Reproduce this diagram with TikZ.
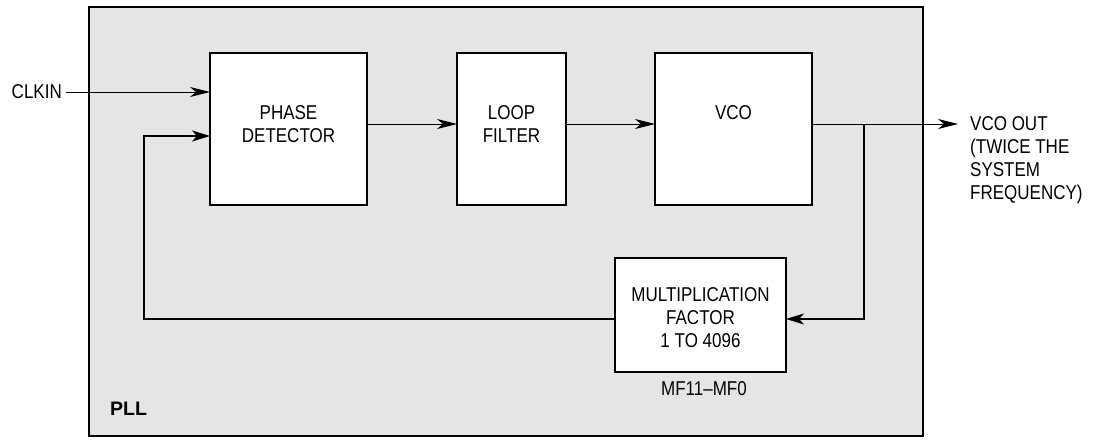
\documentclass[tikz,border=0pt]{standalone}
\usepackage{fontspec}
\setmainfont{Liberation Sans}
\newfontfamily\narrowsans[FakeStretch=0.85]{Liberation Sans}
\usetikzlibrary{arrows.meta}
\begin{document}
\begin{tikzpicture}[x=1pt,y=-1pt,
  txt/.style={font=\narrowsans\fontsize{20}{23}\selectfont, align=center, inner sep=0pt},
  blk/.style={draw, line width=2pt, fill=white},
  thin/.style={line width=1pt},
  thick/.style={line width=2pt},
  arr/.style={-{Stealth[length=20pt,width=10pt,inset=6pt]}},
  arrt/.style={-{Stealth[length=18pt,width=11pt,inset=5pt]}}
]
\useasboundingbox (0,0) rectangle (1094,444);
\draw[line width=2pt, fill={rgb,255:red,229;green,229;blue,229}] (89,7) rectangle (923,436);
% blocks
\draw[blk] (210,53) rectangle (367,205);
\draw[blk] (457,53) rectangle (566,205);
\draw[blk] (655,53) rectangle (812,205);
\draw[blk] (615,258) rectangle (786,372);
\coordinate (pdW1) at (210,92);
\coordinate (pdW2) at (210,136);
\coordinate (pdE) at (367,124);
\coordinate (lfW) at (457,124);
\coordinate (lfE) at (566,124);
\coordinate (vcoW) at (655,124);
\coordinate (vcoE) at (812,124);
\coordinate (mfE) at (786,319);
\coordinate (mfW) at (615,319);
\coordinate (j) at (864,124);
\coordinate (outend) at (958,124);
\coordinate (fbL) at (144,319);
\coordinate (fbT) at (144,136);
% texts
\node[txt, anchor=east] (clkin) at (62,92) {CLKIN};
\node[txt] (pd) at (288.5,124) {PHASE\\DETECTOR};
\node[txt] (lf) at (511.5,124) {LOOP\\FILTER};
\node[txt] (vco) at (733.5,113) {VCO};
\node[txt] (mf) at (700.5,318) {MULTIPLICATION\\FACTOR\\1 TO 4096};
\node[txt] (mfl) at (704,389) {MF11–MF0};
\node[txt, align=left, anchor=north west] (out) at (970,116) {VCO OUT\\(TWICE THE\\SYSTEM\\FREQUENCY)};
\node[inner sep=0pt, font=\fontsize{19.5}{22}\selectfont\bfseries, anchor=west] (pll) at (110,408.5) {PLL};
% connectors
\draw[thin, arr] (clkin.east) ++(4,0) -- (pdW1);
\draw[thin, arr] (pdE) -- (lfW);
\draw[thin, arr] (lfE) -- (vcoW);
\draw[thin, arr] (vcoE) -- (outend);
\draw[thick, arrt] (j) -- (864,319) -- (mfE);
\draw[thick, arrt] (mfW) -- (fbL) -- (fbT) -- (pdW2);
\end{tikzpicture}
\end{document}
